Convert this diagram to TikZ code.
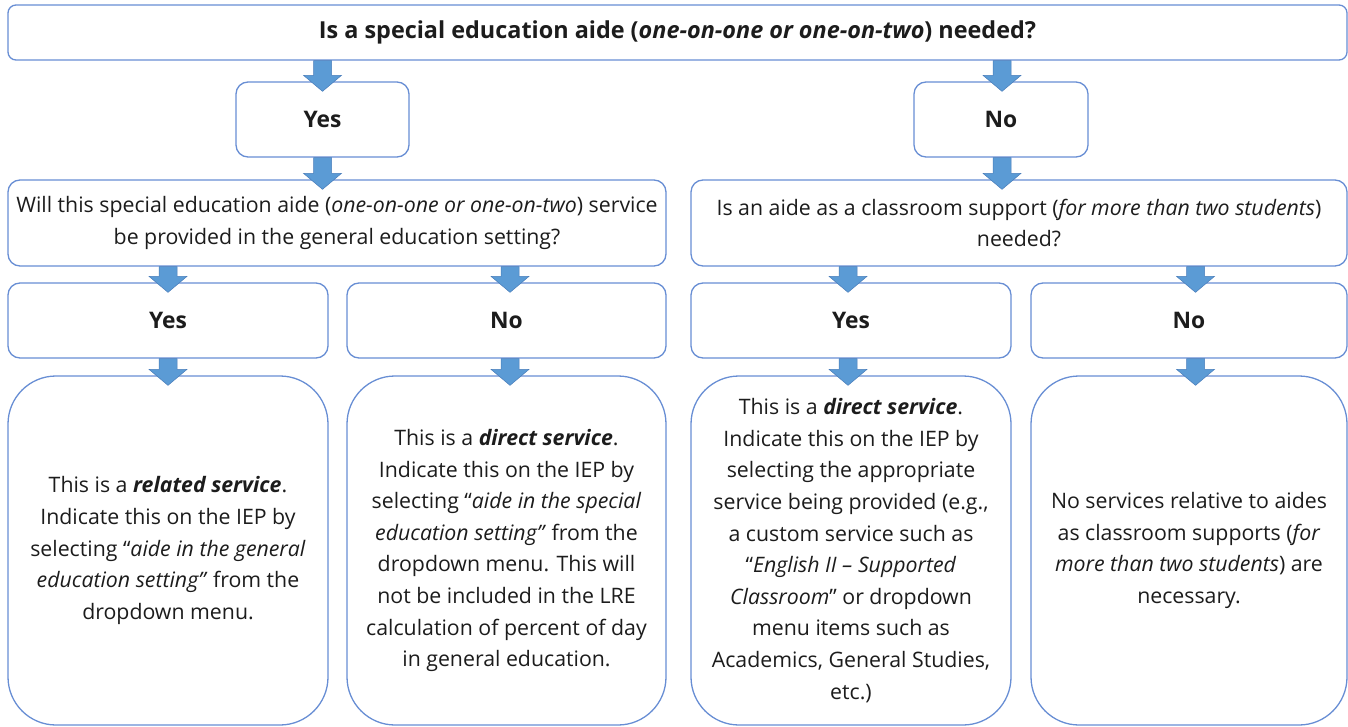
\documentclass[tikz,border=0pt]{standalone}
\usepackage{fontspec}
\setmainfont{Open Sans}
\usetikzlibrary{calc}

\definecolor{boxline}{RGB}{104,142,212}
\definecolor{arrowfill}{RGB}{91,155,213}
\definecolor{arrowline}{RGB}{72,124,186}
\definecolor{inktext}{RGB}{28,28,28}

\tikzset{
  flowbox/.style={draw=boxline, line width=1.3pt, fill=white, rounded corners=12pt,
    inner sep=0pt, align=center, text=inktext, font=\fontsize{21.3}{31.6}\selectfont},
  headbox/.style={flowbox, rounded corners=8pt, font=\fontsize{23.4}{31.6}\selectfont\bfseries},
  answerbox/.style={flowbox, font=\fontsize{22.8}{31.6}\selectfont\bfseries},
  resultbox/.style={flowbox, rounded corners=48pt},
  % block arrow: the shaft leaves the start point, the tip sits 10pt inside the target box
  barrow/.style={draw=arrowline, fill=arrowfill, line width=0.5pt,
    to path={let \p1=(\tikztostart), \p2=(\tikztotarget) in
      (\x1-9pt,\y1) -- (\x1-9pt,\y2+6pt) -- (\x1-19pt,\y2+6pt) -- (\x1,\y2-10pt)
      -- (\x1+19pt,\y2+6pt) -- (\x1+9pt,\y2+6pt) -- (\x1+9pt,\y1) -- cycle}},
}

\begin{document}
\begin{tikzpicture}[x=1pt, y=-1pt]
\useasboundingbox (0,0) rectangle (1348,727);

% question
\node[headbox, minimum width=1339pt, minimum height=55pt] (top) at (677.5,32.5)
  {Is a special education aide (\textit{one-on-one or one-on-two}) needed?};

% first answers
\node[answerbox, minimum width=173pt, minimum height=75pt] (yes1) at (322.5,119.5) {Yes};
\node[answerbox, minimum width=174pt, minimum height=75pt] (no1) at (1001,119.5) {No};

% follow-up questions
\node[flowbox, minimum width=658pt, minimum height=86pt] (q2l) at (337,223)
  {Will this special education aide (\textit{one-on-one or one-on-two}) service\\
   be provided in the general education setting?};
\node[flowbox, minimum width=656pt, minimum height=86pt] (q2r) at (1019,223)
  {Is an aide as a classroom support (\textit{for more than two students})\\
   needed?};

% second answers
\node[answerbox, minimum width=320pt, minimum height=75pt] (yes2) at (168,320.5) {Yes};
\node[answerbox, minimum width=319pt, minimum height=75pt] (no2) at (506.5,320.5) {No};
\node[answerbox, minimum width=320pt, minimum height=75pt] (yes3) at (851,320.5) {Yes};
\node[answerbox, minimum width=316pt, minimum height=75pt] (no3) at (1189,320.5) {No};

% outcomes
\node[resultbox, minimum width=320pt, minimum height=349pt] (res1) at (168,550.5)
  {This is a \textbf{\textit{related service}}.\\
   Indicate this on the IEP by\\
   selecting “\textit{aide in the general}\\
   \textit{education setting”} from the\\
   dropdown menu.};
\node[resultbox, minimum width=319pt, minimum height=349pt] (res2) at (506.5,550.5)
  {This is a \textbf{\textit{direct service}}.\\
   Indicate this on the IEP by\\
   selecting “\textit{aide in the special}\\
   \textit{education setting”} from the\\
   dropdown menu. This will\\
   not be included in the LRE\\
   calculation of percent of day\\
   in general education.};
\node[resultbox, minimum width=320pt, minimum height=349pt] (res3) at (851,550.5)
  {This is a \textbf{\textit{direct service}}.\\
   Indicate this on the IEP by\\
   selecting the appropriate\\
   service being provided (e.g.,\\
   a custom service such as\\
   “\textit{English II – Supported}\\
   \textit{Classroom}” or dropdown\\
   menu items such as\\
   Academics, General Studies,\\
   etc.)};
\node[resultbox, minimum width=316pt, minimum height=349pt] (res4) at (1189,550.5)
  {No services relative to aides\\
   as classroom supports (\textit{for}\\
   \textit{more than two students}) are\\
   necessary.};

% arrows
\path[barrow] (yes1.north |- top.south) to (yes1.north);
\path[barrow] ([xshift=1pt]no1.north |- top.south) to (no1.north);
\path[barrow] (yes1.south) to (yes1.south |- q2l.north);
\path[barrow] ([xshift=1pt]no1.south) to (no1.south |- q2r.north);
\path[barrow] (yes2.north |- q2l.south) to (yes2.north);
\path[barrow] ([xshift=3.5pt]no2.north |- q2l.south) to (no2.north);
\path[barrow] ([xshift=-3pt]yes3.north |- q2r.south) to (yes3.north);
\path[barrow] ([xshift=6.5pt]no3.north |- q2r.south) to (no3.north);
\path[barrow] (yes2.south) to (res1.north);
\path[barrow] ([xshift=3.5pt]no2.south) to (res2.north);
\path[barrow] ([xshift=-3pt]yes3.south) to (res3.north);
\path[barrow] ([xshift=6.5pt]no3.south) to (res4.north);
\end{tikzpicture}
\end{document}
